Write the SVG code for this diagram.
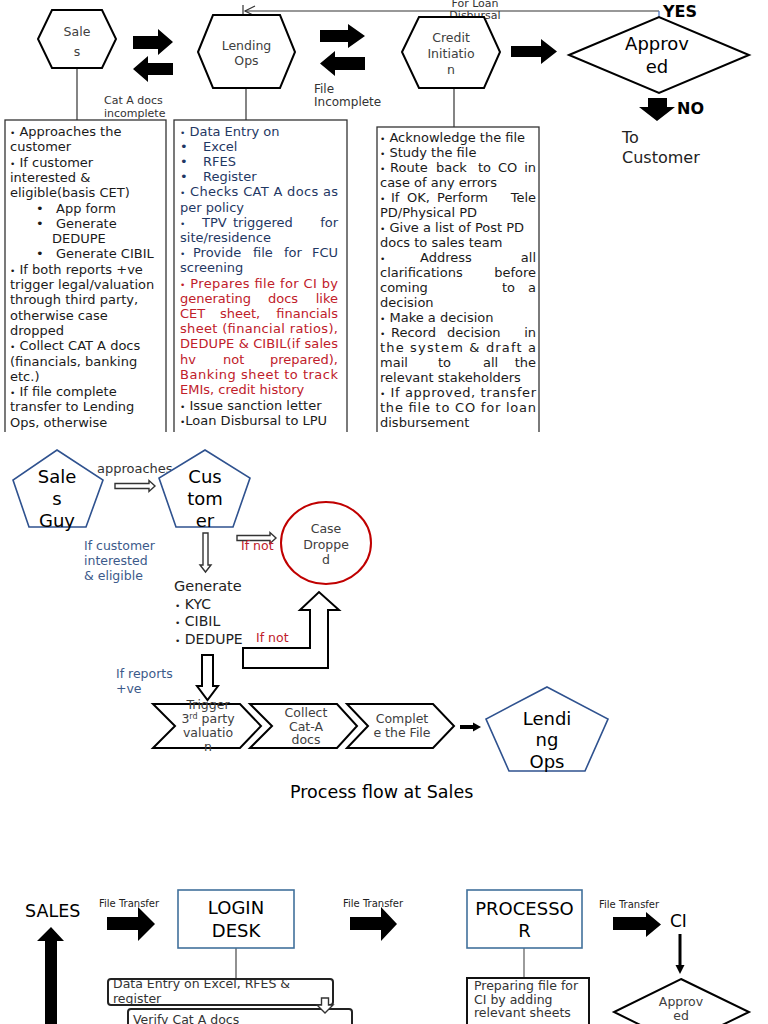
<svg xmlns="http://www.w3.org/2000/svg" width="768" height="1024" viewBox="0 0 768 1024">
<style>
text { font-family: "DejaVu Sans", "Liberation Sans", sans-serif; }
.box { fill: #fff; stroke: #333; stroke-width: 1.3; }
.hex { fill: #fff; stroke: #000; stroke-width: 2; }
.pent { fill: #fff; stroke: #2f528f; stroke-width: 1.6; }
.rectb { fill: #fff; stroke: #41719c; stroke-width: 1.6; }
.blk { fill: #000; stroke: none; }
.hol { fill: #fff; stroke: #000; stroke-width: 2; }
.holt { fill: #fff; stroke: #333; stroke-width: 1.4; }
.ln { stroke: #333; stroke-width: 1.2; fill: none; }
.bt { font-size: 13px; fill: #1a1a1a; }
.navy { fill: #1f3864; }
.red { fill: #c0202a; }
.nt { font-size: 12.5px; fill: #404040; text-anchor: middle; }
.big { font-size: 18px; fill: #000; text-anchor: middle; }
.sm { font-size: 11px; fill: #333; }
.ft { font-size: 10px; fill: #222; }
.blue { font-size: 12.5px; fill: #3c5a8a; }
.rd { font-size: 12.5px; fill: #c0202a; }
.bl { font-size: 9px; }
</style>
<defs>
<clipPath id="topclip"><rect x="0" y="0" width="768" height="432"/></clipPath>
</defs>

<!-- ===== TOP SECTION ===== -->
<g id="connectors-top">
<line class="ln" x1="77" y1="68" x2="77" y2="120"/>
<line class="ln" x1="246" y1="88" x2="246" y2="120"/>
<line class="ln" x1="454" y1="88" x2="454" y2="127"/>
<line class="ln" x1="245" y1="11" x2="659" y2="11"/>
<polyline class="ln" points="255,6 245,11 255,16" stroke-width="1.5"/>
<line class="ln" x1="243" y1="5" x2="243" y2="17"/>
<line x1="659" y1="11" x2="659" y2="18" stroke="#4472c4" stroke-width="1.2"/>
<polygon class="blk" points="133,36 158,36 158,29 173,42 158,55 158,49 133,49"/>
<polygon class="blk" points="173,63 148,63 148,56 133,69 148,82 148,75 173,75"/>
<polygon class="blk" points="320,30 348,30 348,24 365,36 348,48 348,42 320,42"/>
<polygon class="blk" points="365,57 335,57 335,51 320,63.5 335,76 335,70 365,70"/>
<polygon class="blk" points="511,46 541,46 541,39 557,51.5 541,64 541,57 511,57"/>
<polygon class="blk" points="648,98 667,98 667,107 675,107 657,121 639,107 648,107"/>
<text class="sm" x="104" y="104">Cat A docs</text>
<text class="sm" x="104" y="117">incomplete</text>
<text x="314" y="93" font-size="12" fill="#333">File</text>
<text x="314" y="106" font-size="12" fill="#333">Incomplete</text>
<text class="sm" x="475" y="7" text-anchor="middle">For Loan</text>
<text class="sm" x="475" y="19" text-anchor="middle">Disbursal</text>
<text x="663" y="17" font-size="16" font-weight="bold" fill="#000">YES</text>
<text x="677" y="114" font-size="16" font-weight="bold" fill="#000">NO</text>
<text x="622" y="143" font-size="16" fill="#222">To</text>
<text x="622" y="163" font-size="16" fill="#222">Customer</text>
</g>

<g id="node-sales">
<polygon class="hex" points="38,39 52,10 102,10 116,39 102,68 52,68"/>
<text class="nt" x="77" y="36" font-size="14.5">Sale</text>
<text class="nt" x="77" y="56" font-size="14.5">s</text>
</g>
<g id="node-lending-ops">
<polygon class="hex" points="198,52 213,15 280,15 295,52 280,88 213,88"/>
<text class="nt" x="246.5" y="50">Lending</text>
<text class="nt" x="246.5" y="65">Ops</text>
</g>
<g id="node-credit">
<polygon class="hex" points="402,52 419,17 484,17 500,52 484,88 419,88"/>
<text class="nt" x="451" y="42">Credit</text>
<text class="nt" x="451" y="58">Initiatio</text>
<text class="nt" x="451" y="74">n</text>
</g>
<g id="node-approved-top">
<polygon class="hex" points="569,55 659,17 749,55 659,93"/>
<text class="big" x="657" y="50" font-size="17">Approv</text>
<text class="big" x="657" y="73" font-size="17">ed</text>
</g>

<g clip-path="url(#topclip)">
<g id="box-sales">
<rect class="box" x="5" y="120" width="161" height="330"/>
<text class="bt" x="10" y="136"><tspan class="bl">•</tspan> Approaches the</text>
<text class="bt" x="10" y="151.3">customer</text>
<text class="bt" x="10" y="166.6"><tspan class="bl">•</tspan> If customer</text>
<text class="bt" x="10" y="181.9">interested &amp;</text>
<text class="bt" x="10" y="197.2">eligible(basis CET)</text>
<text class="bt" y="212.5"><tspan x="36">•</tspan><tspan x="56">App form</tspan></text>
<text class="bt" y="227.8"><tspan x="36">•</tspan><tspan x="56">Generate</tspan></text>
<text class="bt" x="52" y="243.1">DEDUPE</text>
<text class="bt" y="258.4"><tspan x="36">•</tspan><tspan x="56">Generate CIBIL</tspan></text>
<text class="bt" x="10" y="273.7"><tspan class="bl">•</tspan> If both reports +ve</text>
<text class="bt" x="10" y="289">trigger legal/valuation</text>
<text class="bt" x="10" y="304.3">through third party,</text>
<text class="bt" x="10" y="319.6">otherwise case</text>
<text class="bt" x="10" y="334.9">dropped</text>
<text class="bt" x="10" y="350.2"><tspan class="bl">•</tspan> Collect CAT A docs</text>
<text class="bt" x="10" y="365.5">(financials, banking</text>
<text class="bt" x="10" y="380.8">etc.)</text>
<text class="bt" x="10" y="396.1"><tspan class="bl">•</tspan> If file complete</text>
<text class="bt" x="10" y="411.4">transfer to Lending</text>
<text class="bt" x="10" y="426.7">Ops, otherwise</text>
</g>

<g id="box-lending-ops">
<rect class="box" x="174" y="120" width="173" height="330"/>
<text class="bt navy" x="180" y="135.5"><tspan class="bl">•</tspan> Data Entry on</text>
<text class="bt navy" y="150.7"><tspan x="180">•</tspan><tspan x="203">Excel</tspan></text>
<text class="bt navy" y="165.9"><tspan x="180">•</tspan><tspan x="203">RFES</tspan></text>
<text class="bt navy" y="181.1"><tspan x="180">•</tspan><tspan x="203">Register</tspan></text>
<text class="bt navy" x="180" y="196.3" textLength="158" lengthAdjust="spacing"><tspan class="bl">•</tspan> Checks CAT A docs as</text>
<text class="bt navy" x="180" y="211.5">per policy</text>
<text class="bt navy" y="226.7"><tspan x="180" class="bl">•</tspan><tspan x="202">TPV</tspan><tspan x="233">triggered</tspan><tspan x="338" text-anchor="end">for</tspan></text>
<text class="bt navy" x="180" y="241.9">site/residence</text>
<text class="bt navy" y="257.1"><tspan x="180" class="bl">•</tspan><tspan x="193">Provide</tspan><tspan x="253">file</tspan><tspan x="284">for</tspan><tspan x="338" text-anchor="end">FCU</tspan></text>
<text class="bt navy" x="180" y="272.3">screening</text>
<text class="bt red" x="180" y="287.5" textLength="158" lengthAdjust="spacing"><tspan class="bl">•</tspan> Prepares file for CI by</text>
<text class="bt red" y="302.7"><tspan x="180">generating</tspan><tspan x="268">docs</tspan><tspan x="338" text-anchor="end">like</tspan></text>
<text class="bt red" y="317.9"><tspan x="180">CET</tspan><tspan x="220">sheet,</tspan><tspan x="338" text-anchor="end">financials</tspan></text>
<text class="bt red" x="180" y="333.1" textLength="158" lengthAdjust="spacing">sheet (financial ratios),</text>
<text class="bt red" x="180" y="348.3" textLength="158" lengthAdjust="spacing">DEDUPE &amp; CIBIL(if sales</text>
<text class="bt red" y="363.5"><tspan x="180">hv</tspan><tspan x="223">not</tspan><tspan x="338" text-anchor="end">prepared),</tspan></text>
<text class="bt red" x="180" y="378.7" textLength="158" lengthAdjust="spacing">Banking sheet to track</text>
<text class="bt red" x="180" y="393.9">EMIs, credit history</text>
<text class="bt" x="180" y="409.6"><tspan class="bl">•</tspan> Issue sanction letter</text>
<text class="bt" x="180" y="425"><tspan class="bl">•</tspan>Loan Disbursal to LPU</text>
</g>

<g id="box-credit">
<rect class="box" x="377" y="127" width="162" height="330"/>
<text class="bt" x="380" y="142"><tspan class="bl">•</tspan> Acknowledge the file</text>
<text class="bt" x="380" y="157"><tspan class="bl">•</tspan> Study the file</text>
<text class="bt" y="172"><tspan x="380" class="bl">•</tspan><tspan x="390">Route</tspan><tspan x="436">back</tspan><tspan x="478">to</tspan><tspan x="498">CO</tspan><tspan x="536" text-anchor="end">in</tspan></text>
<text class="bt" x="380" y="187">case of any errors</text>
<text class="bt" y="202"><tspan x="380" class="bl">•</tspan><tspan x="391">If</tspan><tspan x="407">OK,</tspan><tspan x="437">Perform</tspan><tspan x="536" text-anchor="end">Tele</tspan></text>
<text class="bt" x="380" y="217">PD/Physical PD</text>
<text class="bt" x="380" y="232"><tspan class="bl">•</tspan> Give a list of Post PD</text>
<text class="bt" x="380" y="247">docs to sales team</text>
<text class="bt" y="262"><tspan x="380" class="bl">•</tspan><tspan x="420">Address</tspan><tspan x="536" text-anchor="end">all</tspan></text>
<text class="bt" y="277"><tspan x="380">clarifications</tspan><tspan x="536" text-anchor="end">before</tspan></text>
<text class="bt" y="292"><tspan x="380">coming</tspan><tspan x="502">to</tspan><tspan x="536" text-anchor="end">a</tspan></text>
<text class="bt" x="380" y="307">decision</text>
<text class="bt" x="380" y="322"><tspan class="bl">•</tspan> Make a decision</text>
<text class="bt" y="337"><tspan x="380" class="bl">•</tspan><tspan x="391">Record</tspan><tspan x="447">decision</tspan><tspan x="536" text-anchor="end">in</tspan></text>
<text class="bt" x="380" y="352" textLength="156" lengthAdjust="spacing">the system &amp; draft a</text>
<text class="bt" y="367"><tspan x="380">mail</tspan><tspan x="438">to</tspan><tspan x="483">all</tspan><tspan x="536" text-anchor="end">the</tspan></text>
<text class="bt" x="380" y="382">relevant stakeholders</text>
<text class="bt" x="380" y="397" textLength="156" lengthAdjust="spacing"><tspan class="bl">•</tspan> If approved, transfer</text>
<text class="bt" x="380" y="412" textLength="156" lengthAdjust="spacing">the file to CO for loan</text>
<text class="bt" x="380" y="427">disbursement</text>
</g>
</g>

<!-- ===== MIDDLE SECTION ===== -->
<g id="connectors-middle">
<path class="holt" d="M115,483.5 L149,483.5 L149,480.5 L155,486 L149,491.5 L149,488.5 L115,488.5 Z"/>
<path class="holt" d="M203,533 L208,533 L208,565 L211,565 L205.5,572 L200,565 L203,565 Z"/>
<path class="holt" d="M237,535.5 L270,535.5 L270,532.5 L276,538 L270,543.5 L270,540.5 L237,540.5 Z"/>
<path class="hol" d="M243,648 L310,648 L310,610 L300,610 L319,592 L339,610 L328,610 L328,668 L243,668 Z"/>
<path class="hol" d="M202,655 L213,655 L213,686 L218,686 L207.5,700 L197,686 L202,686 Z"/>
<line x1="460" y1="727" x2="474" y2="727" stroke="#000" stroke-width="4"/>
<polygon class="blk" points="473,722.5 481,727 473,731.5"/>
<text x="97" y="473" font-size="13" fill="#333">approaches</text>
<text class="blue" x="84" y="550">If customer</text>
<text class="blue" x="84" y="565">interested</text>
<text class="blue" x="84" y="580">&amp; eligible</text>
<text class="rd" x="241" y="550">If not</text>
<text class="rd" x="256" y="642">If not</text>
<text class="blue" x="116" y="678">If reports</text>
<text class="blue" x="116" y="693">+ve</text>
<text x="174" y="591" font-size="14.5" fill="#222">Generate</text>
<text x="175" y="609" font-size="14" fill="#222"><tspan class="bl">•</tspan> KYC</text>
<text x="175" y="626" font-size="14" fill="#222"><tspan class="bl">•</tspan> CIBIL</text>
<text x="175" y="644" font-size="14" fill="#222"><tspan class="bl">•</tspan> DEDUPE</text>
<text x="290" y="798" font-size="17.5" fill="#000">Process flow at Sales</text>
</g>

<g id="node-sales-guy">
<polygon class="pent" points="57,450 103,480 86,527 29,527 13,480"/>
<text class="big" x="57" y="483">Sale</text>
<text class="big" x="57" y="505">s</text>
<text class="big" x="57" y="527">Guy</text>
</g>
<g id="node-customer">
<polygon class="pent" points="205,450 250,478 233,527 176,527 159,478"/>
<text class="big" x="205" y="483">Cus</text>
<text class="big" x="205" y="505">tom</text>
<text class="big" x="205" y="527">er</text>
</g>
<g id="node-case-dropped">
<ellipse cx="326" cy="543" rx="45" ry="41" fill="#fff" stroke="#c00000" stroke-width="2"/>
<text class="nt" x="326" y="533" fill="#333">Case</text>
<text class="nt" x="326" y="549" fill="#333">Droppe</text>
<text class="nt" x="326" y="564" fill="#333">d</text>
</g>
<g id="node-trigger">
<polygon class="hol" stroke-width="2.5" points="153,704 240,704 261,726 240,748 153,748 175,726"/>
<text class="nt" x="208" y="709" fill="#333">Trigger</text>
<text class="nt" x="208" y="723" fill="#333">3<tspan font-size="8" baseline-shift="super">rd</tspan> party</text>
<text class="nt" x="208" y="737" fill="#333">valuatio</text>
<text class="nt" x="208" y="751" fill="#333">n</text>
</g>
<g id="node-collect">
<polygon class="hol" stroke-width="2.5" points="250,704 337,704 357,726 337,748 250,748 272,726"/>
<text class="nt" x="306" y="717" fill="#333">Collect</text>
<text class="nt" x="306" y="731" fill="#333">Cat-A</text>
<text class="nt" x="306" y="744" fill="#333">docs</text>
</g>
<g id="node-complete">
<polygon class="hol" stroke-width="2.5" points="347,704 433,704 454,726 433,748 347,748 368,726"/>
<text class="nt" x="402" y="723" fill="#333">Complet</text>
<text class="nt" x="402" y="737" fill="#333">e the File</text>
</g>
<g id="node-lending-ops-2">
<polygon class="pent" points="547,687 608,719 585,771 509,771 486,719"/>
<text class="big" x="547" y="725" font-size="17">Lendi</text>
<text class="big" x="547" y="746" font-size="17">ng</text>
<text class="big" x="547" y="768" font-size="17">Ops</text>
</g>

<!-- ===== BOTTOM SECTION ===== -->
<g id="connectors-bottom">
<polygon class="blk" points="107,917 138,917 138,907 155,924 138,941 138,930 107,930"/>
<polygon class="blk" points="350,917 381,917 381,907 397,924 381,941 381,930 350,930"/>
<polygon class="blk" points="613,917 646,917 646,912 661,924.5 646,937 646,930 613,930"/>
<text class="ft" x="99" y="907">File Transfer</text>
<text class="ft" x="343" y="907">File Transfer</text>
<text class="ft" x="599" y="908">File Transfer</text>
<line x1="236" y1="948" x2="236" y2="979" stroke="#555" stroke-width="1.3"/>
<line x1="524" y1="948" x2="524" y2="978" stroke="#666" stroke-width="1.3"/>
<line x1="680" y1="934" x2="680" y2="966" stroke="#000" stroke-width="3"/>
<polygon class="blk" points="675.5,965 684.5,965 680,974"/>
<polygon class="blk" points="51,927 64,941 57,941 57,1030 45,1030 45,941 37,941"/>
</g>

<g id="node-sales-bottom">
<text x="25" y="917" font-size="17.5" fill="#000">SALES</text>
</g>
<g id="node-login-desk">
<rect class="rectb" x="178" y="890" width="116" height="58"/>
<text class="big" x="236" y="914" font-size="17.5">LOGIN</text>
<text class="big" x="236" y="937" font-size="17.5">DESK</text>
</g>
<g id="node-processor">
<rect class="rectb" x="467" y="890" width="115" height="58"/>
<text class="big" x="524.5" y="915" font-size="17.5">PROCESSO</text>
<text class="big" x="524.5" y="937" font-size="17.5">R</text>
</g>
<g id="node-ci">
<text x="670" y="927" font-size="17" fill="#000">CI</text>
</g>
<g id="node-data-entry">
<text x="113" y="987.5" font-size="12.5" fill="#333">Data Entry on Excel, RFES &amp;</text>
<text x="113" y="1002.5" font-size="12.5" fill="#333">register</text>
<rect x="108" y="979" width="225" height="26" rx="3" fill="none" stroke="#222" stroke-width="2"/>
</g>
<g id="node-verify">
<rect x="128" y="1009" width="224" height="30" rx="3" fill="#fff" stroke="#222" stroke-width="2"/>
<text x="133" y="1024" font-size="12.5" fill="#333">Verify Cat A docs</text>
<path class="holt" d="M321.5,998 L328.5,998 L328.5,1005 L333,1005 L325,1013 L317,1005 L321.5,1005 Z"/>
</g>
<g id="node-preparing">
<rect x="467" y="978" width="122" height="60" fill="#fff" stroke="#111" stroke-width="2"/>
<text x="474" y="990" font-size="12.5" fill="#333">Preparing file for</text>
<text x="474" y="1003.5" font-size="12.5" fill="#333">CI by adding</text>
<text x="474" y="1017" font-size="12.5" fill="#333">relevant sheets</text>
</g>
<g id="node-approved-bottom">
<polygon class="hol" points="681,979 749,1012 681,1045 614,1012"/>
<text class="nt" x="681" y="1006" fill="#333">Approv</text>
<text class="nt" x="681" y="1020" fill="#333">ed</text>
</g>
</svg>
